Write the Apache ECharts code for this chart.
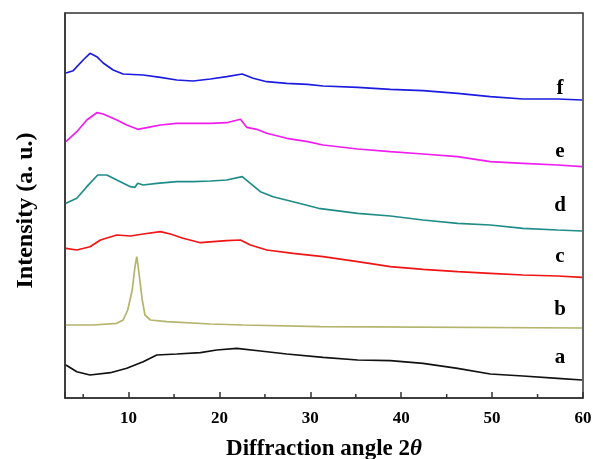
<!DOCTYPE html>
<html>
<head>
<meta charset="utf-8">
<script src="https://cdn.jsdelivr.net/npm/echarts@6/dist/echarts.min.js"></script>
<style>
  html, body { margin: 0; padding: 0; background: #fff; }
  #chart { width: 593px; height: 459px; }
</style>
</head>
<body>
<div id="chart"></div>
<script>
// [2theta, intensity (a.u.)], each curve already stacked
const curveA = [[3.1,33],[4.3,26.3],[5.75,23],[8.0,25.3],[9.8,29.7],[11.6,36.3],[13.1,43],[15.3,44],[17.9,45.3],[19.7,48],[21.9,49.7],[24.5,47],[27.4,44],[31.4,40.7],[35.2,38],[38.8,37.3],[42.4,34.7],[46.2,29.7],[49.8,24],[53.4,22],[57.2,19.7],[59.9,18]];
const curveB = [[3.1,73],[6.1,73],[8.7,74.7],[9.4,78],[9.9,88],[10.4,108],[10.7,131.3],[10.9,141.3],[11.1,128],[11.5,98],[11.8,83],[12.4,78],[14.2,76.3],[19.0,74],[22.6,73],[31.1,71.3],[59.9,70]];
const curveC = [[3.1,149.7],[4.3,148],[5.75,151.3],[6.9,158],[8.7,163],[10.2,162],[11.6,164],[13.5,166.3],[14.6,164],[16.0,159.7],[17.9,155.3],[19.3,156.3],[20.8,157.3],[22.3,158],[23.4,153],[25.2,148],[28.1,144.7],[31.4,141.3],[35.2,136.3],[38.8,131.3],[42.4,128.7],[46.2,126.3],[49.8,124.7],[53.4,123],[57.2,122],[59.9,120.7]];
const curveD = [[3.1,194.7],[4.3,199.7],[5.4,211.3],[6.6,223],[7.6,223],[8.7,218],[10.2,211.3],[10.7,210.7],[11.0,214.7],[11.6,213],[13.1,214.7],[15.3,216.3],[17.1,216.3],[19.0,217],[20.8,218],[22.5,221.3],[23.4,214.7],[24.5,206.3],[25.9,201.3],[28.1,196.3],[30.9,189.7],[35.2,184.7],[38.8,182],[42.4,178],[46.2,174.7],[49.8,173],[53.4,169.7],[57.2,168],[59.9,167]];
const curveE = [[3.1,256.3],[4.3,266.3],[5.4,278],[6.5,285.3],[7.2,284],[8.7,278],[9.8,273],[11.0,268.7],[12.0,270.3],[13.5,273],[15.3,274.7],[17.1,274.7],[19.0,274.7],[20.8,275.3],[22.3,278.7],[23.0,270.7],[24.1,268.7],[25.2,264.7],[27.4,259.7],[29.7,256.3],[31.4,253],[35.2,249],[38.8,246.3],[42.4,244],[46.2,241.3],[49.8,236.3],[53.4,234.7],[57.2,233],[59.9,231.3]];
const curveF = [[3.1,325],[3.9,327.3],[5.0,338],[5.75,344.7],[6.5,341.3],[7.2,335],[8.3,328],[9.4,324],[11.6,323],[13.5,320.7],[15.3,318],[17.1,317],[19.0,319],[20.8,321.3],[22.5,324],[23.7,319.7],[25.2,316.3],[27.4,314.7],[29.7,313.7],[31.4,312],[35.2,310.7],[38.8,308.7],[42.4,307.3],[46.2,304.7],[49.8,301.3],[53.4,299],[57.2,299],[59.9,298]];

const seriesNames = ['a', 'b', 'c', 'd', 'e', 'f'];
const seriesColors = ['#111111', '#b4b46c', '#f01414', '#1f8c88', '#f01cf0', '#1c1ce0'];
const minorTicks = [5, 15, 25, 35, 45, 55];

const serif = '"Liberation Serif", "Times New Roman", serif';
const chart = echarts.init(document.getElementById('chart'));

const curves = [curveA, curveB, curveC, curveD, curveE, curveF];

const option = {
    animation: false,
    grid: {
        left: 65, right: 10, top: 13, bottom: 61,
        outerBoundsMode: 'none',
        containLabel: false,
        show: true,
        borderColor: '#333',
        borderWidth: 1.5
    },
    xAxis: {
        type: 'value',
        min: 3,
        max: 60,
        splitNumber: 6,
        name: '{t|Diffraction angle 2}{i|θ}',
        nameLocation: 'middle',
        nameGap: 40,
        nameTextStyle: {
            rich: {
                t: { fontFamily: serif, fontWeight: 'bold', fontSize: 23, color: '#000' },
                i: { fontFamily: serif, fontWeight: 'bold', fontStyle: 'italic', fontSize: 23, color: '#000' }
            }
        },
        axisLine: { lineStyle: { color: '#333', width: 1.5 } },
        axisTick: { inside: true, length: 6, lineStyle: { color: '#333', width: 1.5 } },
        axisLabel: {
            fontFamily: serif, fontWeight: 'bold', fontSize: 17, color: '#000', margin: 12,
            formatter: function (v) { return v % 10 === 0 ? String(v) : ''; }
        },
        splitLine: { show: false }
    },
    yAxis: {
        type: 'value',
        min: 0,
        max: 385,
        name: 'Intensity (a. u.)',
        nameLocation: 'middle',
        nameGap: 27,
        nameTextStyle: { fontFamily: serif, fontWeight: 'bold', fontSize: 24, color: '#000', padding: [0, 10, 0, 0] },
        axisLine: { show: true, lineStyle: { color: '#333', width: 1.5 } },
        axisTick: { show: false },
        axisLabel: { show: false },
        splitLine: { show: false }
    },
    series: curves.map(function (c, i) {
        return {
            name: seriesNames[i],
            type: 'line',
            data: c,
            showSymbol: false,
            lineStyle: { color: seriesColors[i], width: 1.7 },
            z: 3
        };
    })
};
chart.setOption(option);

// minor ticks at 5, 15, ... and curve letters
const y0 = chart.convertToPixel({ yAxisIndex: 0 }, 0);
const graphics = minorTicks.map(function (v) {
    const x = chart.convertToPixel({ xAxisIndex: 0 }, v);
    return {
        type: 'line',
        shape: { x1: x, y1: y0, x2: x, y2: y0 - 4 },
        style: { stroke: '#333', lineWidth: 1.5 }
    };
});
const letterY = [358, 310, 257, 206, 152, 89];
seriesNames.forEach(function (n, i) {
    graphics.push({
        type: 'text',
        x: 560,
        y: letterY[i],
        style: {
            text: n,
            fontFamily: serif,
            fontWeight: 'bold',
            fontSize: 21,
            fill: '#000',
            align: 'center',
            verticalAlign: 'middle'
        }
    });
});
chart.setOption({ graphic: graphics });
</script>
</body>
</html>
